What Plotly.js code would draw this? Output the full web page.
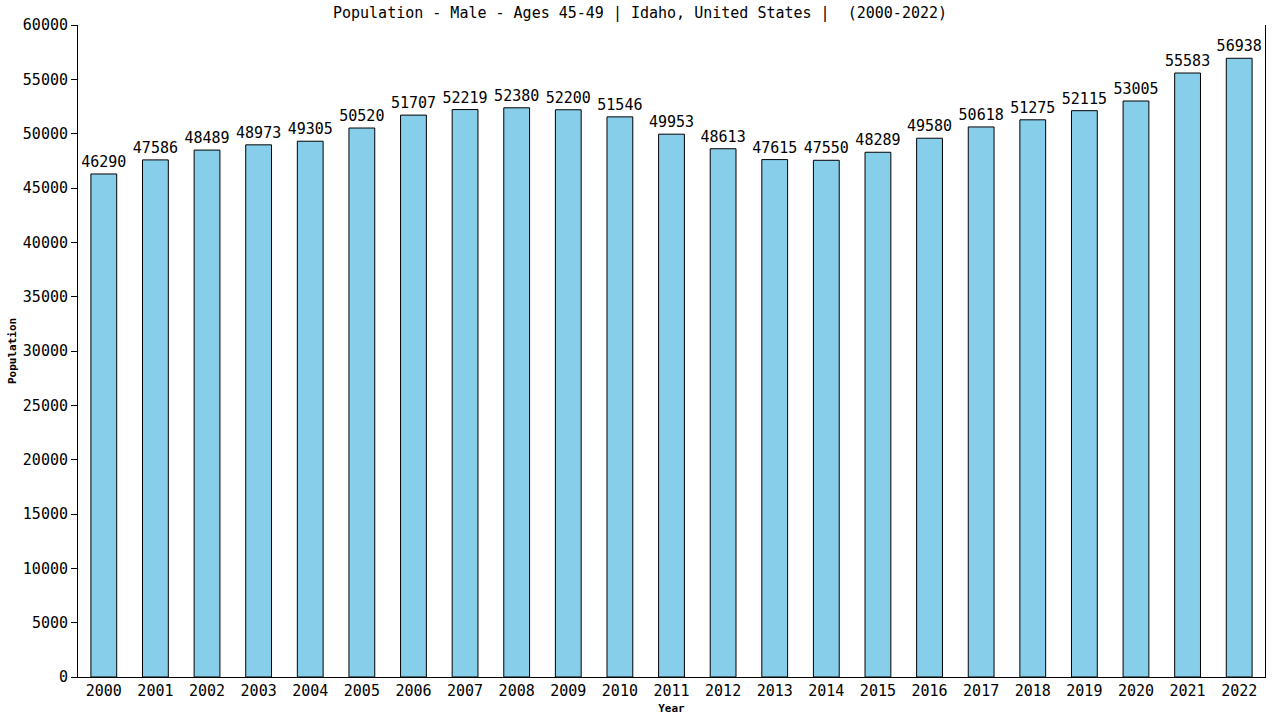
<!DOCTYPE html>
<html>
<head>
<meta charset="utf-8">
<script src="https://cdn.plot.ly/plotly-3.0.1.min.js"></script>
<style>
  html, body { margin: 0; padding: 0; background: #fff; }
  #chart { width: 1280px; height: 720px; }
</style>
</head>
<body>
<div id="chart"></div>
<script>
"use strict";

// Data
const years = ['2000', '2001', '2002', '2003', '2004', '2005', '2006', '2007', '2008', '2009', '2010', '2011',
               '2012', '2013', '2014', '2015', '2016', '2017', '2018', '2019', '2020', '2021', '2022'];
const population = [46290, 47586, 48489, 48973, 49305, 50520, 51707, 52219, 52380, 52200, 51546, 49953,
                    48613, 47615, 47550, 48289, 49580, 50618, 51275, 52115, 53005, 55583, 56938];

const monoFont = 'DejaVu Sans Mono, Liberation Mono, monospace';

const trace = {
    x: years,
    y: population,
    type: 'bar',
    width: 0.5,
    text: population.map(v => String(v)),
    textposition: 'outside',
    constraintext: 'none',
    cliponaxis: false,
    textfont: { family: monoFont, size: 15, color: '#000' },
    marker: {
        color: '#87ceeb',
        line: { color: '#000', width: 1 }
    },
    hoverinfo: 'x+y'
};

const layout = {
    width: 1280,
    height: 720,
    margin: { l: 78, r: 15, t: 25, b: 43 },
    paper_bgcolor: '#fff',
    plot_bgcolor: '#fff',
    font: { family: monoFont, size: 15, color: '#000' },
    showlegend: false,
    title: {
        text: 'Population - Male - Ages 45-49 | Idaho, United States |  (2000-2022)',
        font: { family: monoFont, size: 15, color: '#000' },
        x: 0.5, xanchor: 'center',
        y: 0.982, yanchor: 'middle'
    },
    xaxis: {
        type: 'category',
        range: [-0.5, 22.5],
        showline: true, linecolor: '#000', linewidth: 1,
        showgrid: false, zeroline: false,
        ticks: '',
        tickfont: { family: monoFont, size: 15, color: '#000' },
        title: { text: '<b>Year</b>', font: { family: monoFont, size: 11, color: '#000' }, standoff: 5 }
    },
    yaxis: {
        range: [0, 60000],
        dtick: 5000,
        tickformat: 'd',
        showline: true, mirror: true, linecolor: '#000', linewidth: 1,
        showgrid: false, zeroline: false,
        ticks: 'outside', ticklen: 6, tickcolor: '#000',
        tickfont: { family: monoFont, size: 15, color: '#000' },
        title: { text: '<b>Population</b>', font: { family: monoFont, size: 11, color: '#000' }, standoff: 3 }
    },
    bargap: 0.5
};

Plotly.newPlot('chart', [trace], layout, { staticPlot: true });
</script>
</body>
</html>
